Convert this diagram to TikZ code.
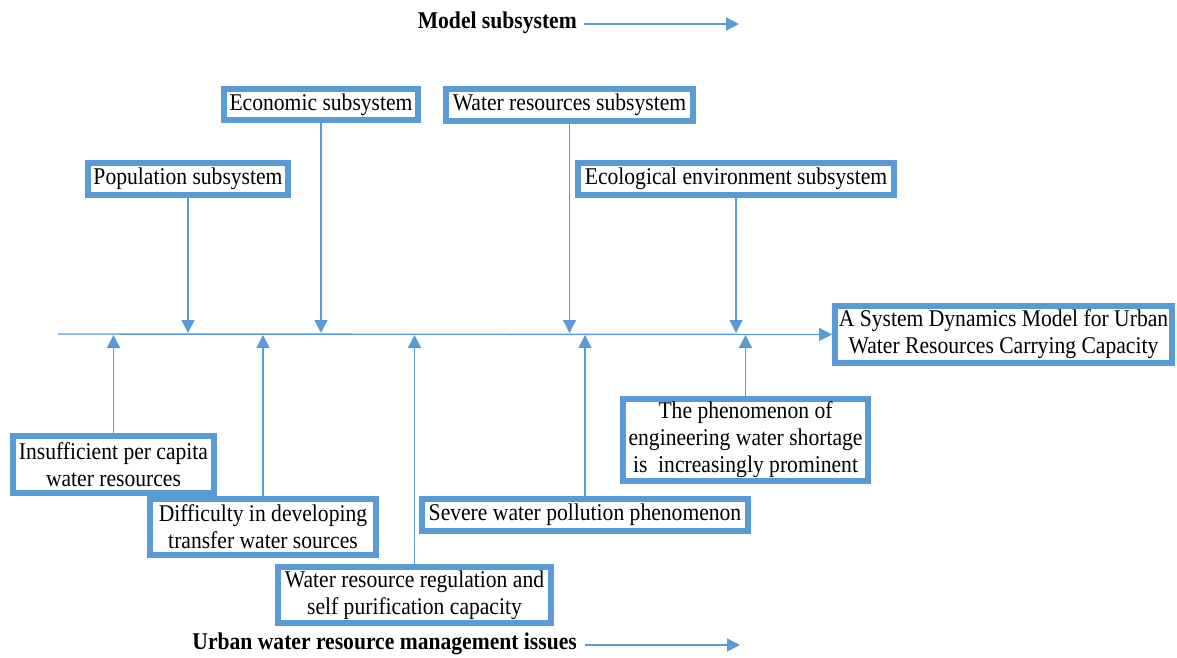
\documentclass[tikz,border=0pt]{standalone}
\usepackage{fontspec}
\setmainfont{Liberation Serif}[FakeStretch=0.9]
\usetikzlibrary{arrows.meta}
\definecolor{boxblue}{RGB}{91,155,213}
\begin{document}
\begin{tikzpicture}[x=1pt,y=-1pt,
  every node/.style={font=\fontsize{24}{27}\selectfont},
  box/.style={draw=boxblue, line width=6pt, fill=white, inner sep=0pt, align=center, text=black},
  arr/.style={draw=boxblue, line width=1.4pt, -{Triangle[length=13pt,width=13pt]}},
  ttl/.style={font=\fontsize{24}{27}\selectfont\bfseries, inner sep=0pt, anchor=east}]
\useasboundingbox (0,0) rectangle (1177,657);
% titles
\node[ttl] (t1) at (577,23) {Model subsystem};
\coordinate (t1s) at (584,24);
\coordinate (t1e) at (739,24);
\draw[arr] (t1s) -- (t1e);
\node[ttl] (t2) at (577,644) {Urban water resource management issues};
\coordinate (t2s) at (585,645);
\coordinate (t2e) at (740,645);
\draw[arr] (t2s) -- (t2e);
% main line
\coordinate (L) at (0,333);
\coordinate (U) at (0,335);
\coordinate (start) at (58,334);
% boxes
\node[box, minimum width=194pt, minimum height=31pt] (eco) at (321,104.5) {Economic subsystem};
\node[box, minimum width=247pt, minimum height=32pt] (wat) at (569.5,105) {Water resources subsystem};
\node[box, minimum width=200pt, minimum height=32pt] (pop) at (188,179) {Population subsystem};
\node[box, minimum width=316pt, minimum height=32pt] (ecl) at (736,179) {Ecological environment subsystem};
\node[box, minimum width=337pt, minimum height=57pt] (fin) at (1003.5,334.5) {A System Dynamics Model for Urban\\Water Resources Carrying Capacity};
\node[box, minimum width=201pt, minimum height=57pt] (ins) at (113.5,464.5) {Insufficient per capita\\water resources};
\node[box, minimum width=226pt, minimum height=56pt] (dif) at (263,527) {Difficulty in developing\\transfer water sources};
\node[box, minimum width=273pt, minimum height=56pt] (reg) at (414.5,595) {Water resource regulation and\\self purification capacity};
\node[box, minimum width=326pt, minimum height=32pt] (sev) at (585,515) {Severe water pollution phenomenon};
\node[box, minimum width=245pt, minimum height=82pt] (phe) at (745.5,440) {The phenomenon of\\engineering water shortage\\is\ \ increasingly prominent};
% connectors
\draw[arr] (start) -- (fin.west);
\draw[arr] (pop.south) -- (pop.south |- L);
\draw[arr] (eco.south) -- (eco.south |- L);
\draw[arr] (wat.south) -- (wat.south |- L);
\draw[arr] (ecl.south) -- (ecl.south |- L);
\draw[arr] (ins.north) -- (ins.north |- U);
\draw[arr] (dif.north) -- (dif.north |- U);
\draw[arr] (reg.north) -- (reg.north |- U);
\draw[arr] (sev.north) -- (sev.north |- U);
\draw[arr] (phe.north) -- (phe.north |- U);
\end{tikzpicture}
\end{document}
